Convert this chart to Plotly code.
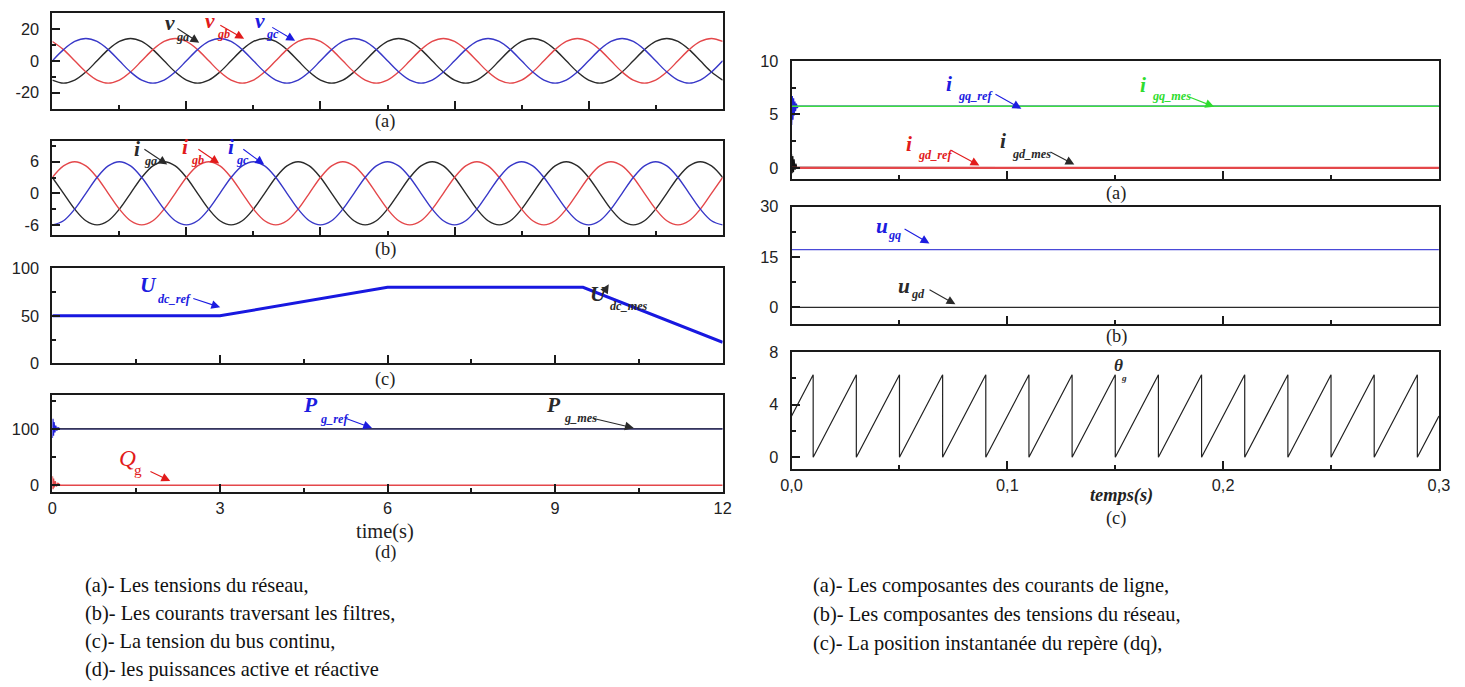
import numpy as np
import plotly.graph_objects as go

# figure size and the page -> figure pixel mapping used for all placements
W, H = 1465, 695
OX, OY = 8.6, 7.1        # page offset of the figure origin
SX, SY = 0.986, 0.976    # page pixels per figure pixel
FS = 1.02                # font compensation for that scale

# ---------------------------------------------------------------- data
# grid voltages / filter currents: 50 Hz, 0 .. 0.1 s, one sample every 30 degrees
t_wave = np.linspace(0.0, 0.1, 61)

v_ga = [
    -12.1, -14, -12.1, -7, 0, 7, 12.1, 14, 12.1, 7, 0, -7,
    -12.1, -14, -12.1, -7, 0, 7, 12.1, 14, 12.1, 7, 0, -7,
    -12.1, -14, -12.1, -7, 0, 7, 12.1, 14, 12.1, 7, 0, -7,
    -12.1, -14, -12.1, -7, 0, 7, 12.1, 14, 12.1, 7, 0, -7,
    -12.1, -14, -12.1, -7, 0, 7, 12.1, 14, 12.1, 7, 0, -7,
    -12.1,
]
v_gb = [
    12.1, 7, 0, -7, -12.1, -14, -12.1, -7, 0, 7, 12.1, 14,
    12.1, 7, 0, -7, -12.1, -14, -12.1, -7, 0, 7, 12.1, 14,
    12.1, 7, 0, -7, -12.1, -14, -12.1, -7, 0, 7, 12.1, 14,
    12.1, 7, 0, -7, -12.1, -14, -12.1, -7, 0, 7, 12.1, 14,
    12.1, 7, 0, -7, -12.1, -14, -12.1, -7, 0, 7, 12.1, 14,
    12.1,
]
v_gc = [
    0, 7, 12.1, 14, 12.1, 7, 0, -7, -12.1, -14, -12.1, -7,
    0, 7, 12.1, 14, 12.1, 7, 0, -7, -12.1, -14, -12.1, -7,
    0, 7, 12.1, 14, 12.1, 7, 0, -7, -12.1, -14, -12.1, -7,
    0, 7, 12.1, 14, 12.1, 7, 0, -7, -12.1, -14, -12.1, -7,
    0, 7, 12.1, 14, 12.1, 7, 0, -7, -12.1, -14, -12.1, -7,
    0,
]

i_ga = [
    3, 0, -3, -5.2, -6, -5.2, -3, 0, 3, 5.2, 6, 5.2,
    3, 0, -3, -5.2, -6, -5.2, -3, 0, 3, 5.2, 6, 5.2,
    3, 0, -3, -5.2, -6, -5.2, -3, 0, 3, 5.2, 6, 5.2,
    3, 0, -3, -5.2, -6, -5.2, -3, 0, 3, 5.2, 6, 5.2,
    3, 0, -3, -5.2, -6, -5.2, -3, 0, 3, 5.2, 6, 5.2,
    3,
]
i_gb = [
    3, 5.2, 6, 5.2, 3, 0, -3, -5.2, -6, -5.2, -3, 0,
    3, 5.2, 6, 5.2, 3, 0, -3, -5.2, -6, -5.2, -3, 0,
    3, 5.2, 6, 5.2, 3, 0, -3, -5.2, -6, -5.2, -3, 0,
    3, 5.2, 6, 5.2, 3, 0, -3, -5.2, -6, -5.2, -3, 0,
    3, 5.2, 6, 5.2, 3, 0, -3, -5.2, -6, -5.2, -3, 0,
    3,
]
i_gc = [
    -6, -5.2, -3, 0, 3, 5.2, 6, 5.2, 3, 0, -3, -5.2,
    -6, -5.2, -3, 0, 3, 5.2, 6, 5.2, 3, 0, -3, -5.2,
    -6, -5.2, -3, 0, 3, 5.2, 6, 5.2, 3, 0, -3, -5.2,
    -6, -5.2, -3, 0, 3, 5.2, 6, 5.2, 3, 0, -3, -5.2,
    -6, -5.2, -3, 0, 3, 5.2, 6, 5.2, 3, 0, -3, -5.2,
    -6,
]

# DC-bus voltage reference (0 .. 12 s)
t_udc = [0, 3, 6, 9.5, 12]
u_dc = [50, 50, 80, 80, 22]

# active / reactive power (0 .. 12 s)
t_pref = [0, 0.01, 0.02, 0.03, 0.045, 0.06, 0.08, 0.1, 0.14, 12]
p_ref = [84, 118, 88, 112, 94, 106, 97, 102, 100, 100]
t_pmes = [0, 12]
p_mes = [100, 100]
t_q = [0, 0.01, 0.02, 0.03, 0.05, 0.07, 0.1, 0.14, 12]
q_g = [16, -7, 12, -4, 7, -2, 3, 0, 0]

# dq line currents (0 .. 0.3 s)
t_iq_ref = [0, 0.0003, 0.0006, 0.0009, 0.0012, 0.0015, 0.0018, 0.0022, 0.0026, 0.003, 0.3]
i_gq_ref = [4.0, 6.7, 4.5, 6.5, 4.9, 6.2, 5.3, 6.0, 5.6, 5.75, 5.75]
t_iq_mes = [0, 0.3]
i_gq_mes = [5.75, 5.75]
t_id_mes = [0, 0.0003, 0.0006, 0.0009, 0.0012, 0.0016, 0.002, 0.0025, 0.003, 0.3]
i_gd_mes = [1.3, -0.5, 1.1, -0.4, 0.8, -0.2, 0.4, 0.0, 0.05, 0.0]
t_id_ref = [0, 0.3]
i_gd_ref = [0, 0]

# dq grid voltages
t_u = [0, 0.3]
u_gq = [17.2, 17.2]
u_gd = [0, 0]

# dq frame angle: wraps from 2*pi to 0 at each of these instants
theta_start, theta_max, theta_end = 3.14, 6.28, 3.14
theta_wraps = [0.01, 0.03, 0.05, 0.07, 0.09, 0.11, 0.13, 0.15,
               0.17, 0.19, 0.21, 0.23, 0.25, 0.27, 0.29]
t_theta = [0.0]
theta_g = [theta_start]
for tw in theta_wraps:
    t_theta += [tw, tw]
    theta_g += [theta_max, 0.0]
t_theta.append(0.3)
theta_g.append(theta_end)

# ---------------------------------------------------------------- style
BLACK = "#2a2a2a"
RED = "#e4474a"
BLUE = "#3838c8"
GREEN = "#3ee03e"
LBL_RED = "#e21b1b"
LBL_BLUE = "#1c1ce0"
LBL_GREEN = "#2fdc2f"


def fx(x):
    return (x - OX) / SX


def fy(y):
    return (y - OY) / SY


def px(x, y):
    """page pixel position -> paper coordinates"""
    return fx(x) / W, 1 - fy(y) / H


def dom_x(x0, x1):
    return [fx(x0) / W, fx(x1) / W]


def dom_y(y0, y1):
    return [1 - fy(y1) / H, 1 - fy(y0) / H]


fig = go.Figure()


def line(ax, x, y, color, width=1.4, shape="linear"):
    fig.add_trace(go.Scatter(
        x=x, y=y, mode="lines", xaxis=f"x{ax}", yaxis=f"y{ax}",
        line=dict(color=color, width=width, shape=shape),
        hoverinfo="skip", showlegend=False))


# left column
line(1, t_wave, v_ga, BLACK, shape="spline")
line(1, t_wave, v_gb, RED, shape="spline")
line(1, t_wave, v_gc, BLUE, shape="spline")

line(2, t_wave, i_ga, BLACK, shape="spline")
line(2, t_wave, i_gb, RED, shape="spline")
line(2, t_wave, i_gc, BLUE, shape="spline")

line(3, t_udc, u_dc, "#1818e0", width=3)

line(4, t_pref, p_ref, "#2020d8", width=1.4)
line(4, t_pmes, p_mes, BLACK, width=1.2)
line(4, t_q, q_g, RED, width=1.6)

# right column
line(5, t_iq_ref, i_gq_ref, "#2020d8", width=1.4)
line(5, t_iq_mes, i_gq_mes, GREEN, width=1.6)
line(5, t_id_mes, i_gd_mes, "#111111", width=1.1)
line(5, t_id_ref, i_gd_ref, RED, width=2.2)

line(6, t_u, u_gq, "#4a4ad8", width=1.3)
line(6, t_u, u_gd, BLACK, width=1.2)

line(7, t_theta, theta_g, "#222222", width=1.2)

# ---------------------------------------------------------------- axes
TICKFONT = dict(family="Liberation Sans, Arial, sans-serif", size=16 * FS, color="#222")


def axis(**kw):
    base = dict(
        showline=True, mirror=True, linecolor="#1a1a1a", linewidth=2,
        ticks="inside", ticklen=8, tickwidth=1.6, tickcolor="#1a1a1a",
        showgrid=False, zeroline=False, tickfont=TICKFONT,
        ticklabelstandoff=8,
        minor=dict(ticks="inside", ticklen=4, tickwidth=1.6,
                   tickcolor="#1a1a1a", showgrid=False),
    )
    minor = kw.pop("minor_dtick", None)
    if minor is not None:
        base["minor"]["dtick"] = minor
    base.update(kw)
    return base


LX = (50, 721)
RX = (790, 1438)

panels = {
    1: dict(x=LX, y=(11, 107)),
    2: dict(x=LX, y=(139, 234)),
    3: dict(x=LX, y=(267, 362)),
    4: dict(x=LX, y=(394, 491)),
    5: dict(x=RX, y=(59, 177)),
    6: dict(x=RX, y=(205, 323)),
    7: dict(x=RX, y=(351, 468)),
}

xcfg = {
    1: dict(range=[0, 0.1], tick0=0, dtick=0.02, minor_dtick=0.01, showticklabels=False),
    2: dict(range=[0, 0.1], tick0=0, dtick=0.02, minor_dtick=0.01, showticklabels=False),
    3: dict(range=[0, 12], tick0=0, dtick=3, minor_dtick=1.5, showticklabels=False),
    4: dict(range=[0, 12], tickvals=[0, 3, 6, 9, 12], minor_dtick=1.5,
            ticklabelstandoff=0),
    5: dict(range=[0, 0.3], tick0=0, dtick=0.1, minor_dtick=0.05, showticklabels=False),
    6: dict(range=[0, 0.3], tick0=0, dtick=0.1, minor_dtick=0.05, showticklabels=False),
    7: dict(range=[0, 0.3], tickvals=[0, 0.1, 0.2, 0.3],
            ticktext=["0,0", "0,1", "0,2", "0,3"], minor_dtick=0.05,
            ticklabelstandoff=0),
}
ycfg = {
    1: dict(range=[-30, 30], tickvals=[-20, 0, 20], ticktext=["-20", "0", "20"],
            minor_dtick=10),
    2: dict(range=[-8, 10], tickvals=[-6, 0, 6], ticktext=["-6", "0", "6"],
            minor_dtick=3),
    3: dict(range=[0, 100], tickvals=[0, 50, 100], minor_dtick=25),
    4: dict(range=[-12, 160], tickvals=[0, 100], minor_dtick=50),
    5: dict(range=[-1, 10], tickvals=[0, 5, 10], minor_dtick=2.5),
    6: dict(range=[-5, 30], tickvals=[0, 15, 30], minor_dtick=7.5),
    7: dict(range=[-0.9, 8], tickvals=[0, 4, 8], minor_dtick=2),
}

layout_axes = {}
for k, p in panels.items():
    sfx = "" if k == 1 else str(k)
    layout_axes[f"xaxis{sfx}"] = axis(domain=dom_x(*p["x"]), anchor=f"y{k}", **xcfg[k])
    layout_axes[f"yaxis{sfx}"] = axis(domain=dom_y(*p["y"]), anchor=f"x{k}", **ycfg[k])

fig.update_layout(
    width=W, height=H, margin=dict(l=0, r=0, t=0, b=0),
    paper_bgcolor="white", plot_bgcolor="white",
    **layout_axes,
)

# ---------------------------------------------------------------- text
SERIF = "Liberation Serif, Times New Roman, serif"


def text(x, y, s, size=18, color="#222", family=SERIF, anchor="center"):
    xp, yp = px(x, y)
    fig.add_annotation(x=xp, y=yp, xref="paper", yref="paper", text=s,
                       showarrow=False, xanchor=anchor, yanchor="middle",
                       font=dict(family=family, size=size * FS, color=color))


def arrow(tail, head, color):
    hx, hy = px(*head)
    fig.add_annotation(x=hx, y=hy, xref="paper", yref="paper", text="",
                       showarrow=True,
                       ax=(tail[0] - head[0]) / SX, ay=(tail[1] - head[1]) / SY,
                       axref="pixel", ayref="pixel", arrowhead=2, arrowsize=1.6,
                       arrowwidth=1.1, arrowcolor=color)


def label(main, sub, color, pos_main, pos_sub, tail=None, head=None,
          size=21, sub_size=12, italic_bold=True):
    m = f"<b><i>{main}</i></b>" if italic_bold else f"<i>{main}</i>"
    s = f"<b><i>{sub}</i></b>" if italic_bold else sub
    text(*pos_main, m, size=size, color=color)
    text(*pos_sub, s, size=sub_size, color=color,
         anchor="left" if len(sub) > 2 else "center")
    if tail is not None:
        arrow(tail, head, color)


# panel curve labels
label("v", "ga", BLACK, (168, 21), (180, 35), (174, 26), (197, 41))
label("v", "gb", LBL_RED, (208, 19), (221, 32), (217, 23), (242, 37))
label("v", "gc", LBL_BLUE, (258, 19), (270, 32), (269, 25), (293, 39))

label("i", "ga", BLACK, (135, 147), (148, 159), (141, 147), (165, 163))
label("i", "gb", LBL_RED, (183, 145), (195, 158), (195, 147), (217, 162))
label("i", "gc", LBL_BLUE, (229, 145), (240, 158), (240, 147), (262, 163))

label("U", "dc_ref", LBL_BLUE, (146, 284), (154, 298), (190, 297), (218, 306))
label("U", "dc_mes", BLACK, (597, 293), (606, 305), (600, 294), (607, 283))

label("P", "g_ref", LBL_BLUE, (308, 404), (316, 418), (343, 417), (370, 427))
label("P", "g_mes", BLACK, (552, 404), (560, 417), (590, 417), (632, 427))
label("Q", "g", LBL_RED, (125, 457), (136, 468), (147, 470), (168, 480),
      size=23, sub_size=15, italic_bold=False)

label("i", "gq_ref", LBL_BLUE, (948, 82), (955, 94), (993, 92), (1020, 107))
label("i", "gq_mes", LBL_GREEN, (1142, 83), (1149, 94), (1187, 95), (1213, 105))
label("i", "gd_ref", LBL_RED, (908, 142), (915, 153), (948, 148), (978, 164))
label("i", "gd_mes", BLACK, (1002, 139), (1009, 152), (1048, 150), (1073, 163))

label("u", "gq", LBL_BLUE, (880, 225), (893, 234), (902, 227), (928, 242))
label("u", "gd", BLACK, (903, 285), (917, 293), (927, 288), (954, 303))

label("θ", "g", BLACK, (1117, 364), (1123, 377), size=17, sub_size=9)

# panel letters and axis titles
text(383, 120, "(a)")
text(383, 248, "(b)")
text(383, 378, "(c)")
text(383, 531, "time(s)", size=20)
text(383, 552, "(d)")
text(1115, 192, "(a)")
text(1115, 335, "(b)")
text(1120, 495, "<b><i>temps(s)</i></b>", size=18)
text(1115, 518, "(c)")

# figure captions
left_caption = [
    "(a)- Les tensions du réseau,",
    "(b)- Les courants traversant les filtres,",
    "(c)- La tension du bus continu,",
    "(d)- les puissances active et réactive",
]
right_caption = [
    "(a)- Les composantes des courants de ligne,",
    "(b)- Les composantes des tensions du réseau,",
    "(c)- La position instantanée du repère (dq),",
]
for i, s in enumerate(left_caption):
    text(81, 585 + 28 * i, s, size=20, color="#111", anchor="left")
for i, s in enumerate(right_caption):
    text(809, 585 + 29 * i, s, size=20, color="#111", anchor="left")

fig.write_html("out.html")
